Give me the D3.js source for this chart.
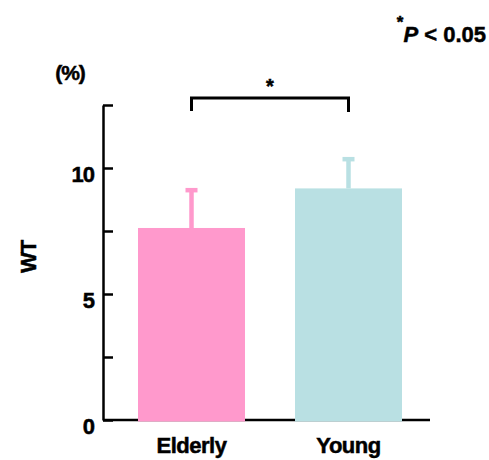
<!DOCTYPE html>
<html>
<head>
<meta charset="utf-8">
<script src="https://cdn.jsdelivr.net/npm/d3@7"></script>
<style>
  body { margin: 0; background: #fff; }
  text { font-family: "Liberation Sans", Arial, sans-serif; font-weight: bold; stroke: #000; stroke-width: 0.5px; }
</style>
</head>
<body>
<div id="chart"></div>
<script>
// data
var categories = ["Elderly", "Young"];
var means = [7.62, 9.19];
var sds = [1.5, 1.16];
var yTicks = [0, 2.5, 5, 7.5, 10, 12.5];
var yLabels = [0, 5, 10];
var colors = ["#ff99cc", "#b9e0e3"];

var width = 489, height = 460;

var svg = d3.select("#chart").append("svg")
    .attr("width", width)
    .attr("height", height);

// scales
var x = d3.scaleBand()
    .domain(categories)
    .range([138, 402])
    .paddingInner(50 / 157)
    .paddingOuter(0);

var y = d3.scaleLinear()
    .domain([0, 12.5])
    .range([420, 105]);

// y axis, ticks pointing inward
var yAxis = d3.axisLeft(y)
    .tickValues(yTicks)
    .tickSizeInner(-10)
    .tickSizeOuter(0)
    .tickPadding(9)
    .tickFormat(function (d) { return yLabels.indexOf(d) >= 0 ? d : ""; });

var gy = svg.append("g")
    .attr("transform", "translate(103,0)")
    .call(yAxis);
gy.select(".domain").attr("stroke", "#000").attr("stroke-width", 2.5);
gy.selectAll(".tick line").attr("stroke", "#000").attr("stroke-width", 2.5);
gy.selectAll(".tick text")
    .attr("dy", "0.6em")
    .attr("fill", "#000")
    .style("font-size", "22px")
    .style("font-family", "'Liberation Sans', Arial, sans-serif")
    .style("font-weight", "bold")
    .style("letter-spacing", "-1px");

// x baseline
svg.append("line")
    .attr("x1", 103).attr("x2", 430)
    .attr("y1", y(0)).attr("y2", y(0))
    .attr("stroke", "#000")
    .attr("stroke-width", 2.5);

// error bars (drawn under the bars)
categories.forEach(function (c, i) {
    var cx = x(c) + x.bandwidth() / 2;
    svg.append("line")
        .attr("x1", cx).attr("x2", cx)
        .attr("y1", y(means[i])).attr("y2", y(means[i] + sds[i]))
        .attr("stroke", colors[i])
        .attr("stroke-width", 4.5);
    svg.append("line")
        .attr("x1", cx - 6).attr("x2", cx + 6)
        .attr("y1", y(means[i] + sds[i])).attr("y2", y(means[i] + sds[i]))
        .attr("stroke", colors[i])
        .attr("stroke-width", 4.5);
});

// bars
svg.selectAll(".bar")
    .data(categories)
    .join("rect")
    .attr("class", "bar")
    .attr("x", function (d) { return x(d); })
    .attr("width", x.bandwidth())
    .attr("y", function (d, i) { return y(means[i]); })
    .attr("height", function (d, i) { return y(0) - y(means[i]) + 1.5; })
    .attr("fill", function (d, i) { return colors[i]; });

// category labels
svg.selectAll(".cat")
    .data(categories)
    .join("text")
    .attr("class", "cat")
    .attr("x", function (d) { return x(d) + x.bandwidth() / 2; })
    .attr("y", 453)
    .attr("text-anchor", "middle")
    .style("font-size", "22px")
    .style("letter-spacing", "-0.5px")
    .text(function (d) { return d; });

// significance bracket
var xa = x(categories[0]) + x.bandwidth() / 2, xb = x(categories[1]) + x.bandwidth() / 2;
svg.append("path")
    .attr("d", "M" + xa + ",111 V98 H" + xb + " V112")
    .attr("fill", "none")
    .attr("stroke", "#000")
    .attr("stroke-width", 3);
svg.append("text")
    .attr("x", (xa + xb) / 2)
    .attr("y", 93)
    .attr("text-anchor", "middle")
    .style("font-size", "20px")
    .text("*");

// y title and unit
svg.append("text")
    .attr("x", 70).attr("y", 80)
    .attr("text-anchor", "middle")
    .style("font-size", "21px")
    .style("letter-spacing", "-1px")
    .text("(%)");
svg.append("text")
    .attr("transform", "translate(36,257) rotate(-90)")
    .attr("text-anchor", "middle")
    .style("font-size", "22px")
    .style("letter-spacing", "-1px")
    .text("WT");

// legend note
var note = svg.append("text")
    .attr("x", 486).attr("y", 42)
    .attr("text-anchor", "end")
    .style("font-size", "22px");
note.append("tspan").attr("dy", -14).style("font-size", "17px").text("*");
note.append("tspan").attr("dy", 14).style("font-style", "italic").text("P");
note.append("tspan").text(" < 0.05");
</script>
</body>
</html>
